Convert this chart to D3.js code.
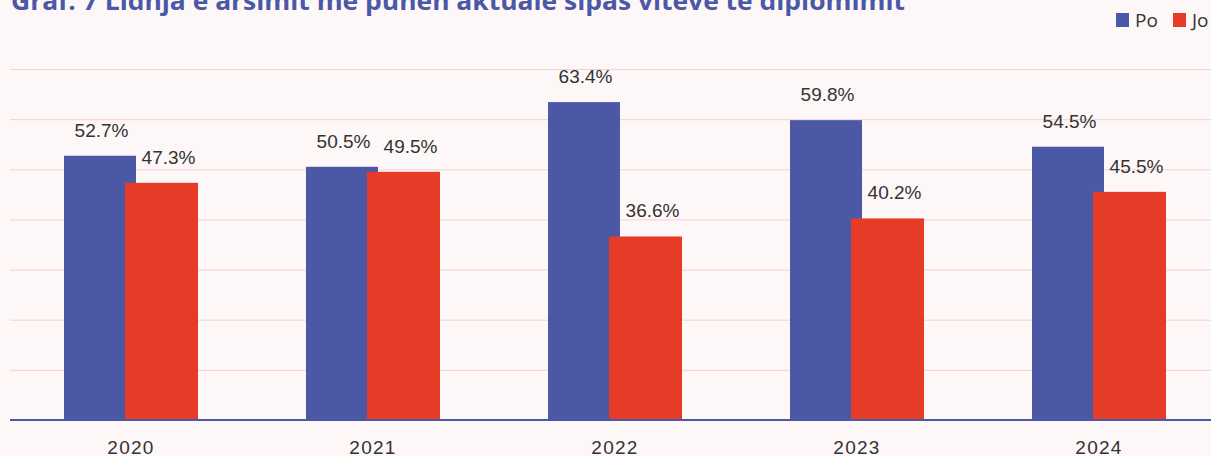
<!DOCTYPE html>
<html>
<head>
<meta charset="utf-8">
<script src="https://cdn.jsdelivr.net/npm/d3@7"></script>
<style>
  html, body { margin: 0; padding: 0; background: #fdf7f7; overflow: hidden; }
  svg { display: block; }
</style>
</head>
<body>
<svg id="chart" width="1211" height="456"></svg>
<script>
const titleText = "Graf. 7 Lidhja e arsimit me punën aktuale sipas viteve të diplomimit";
const years = ["2020", "2021", "2022", "2023", "2024"];
const seriesNames = ["Po", "Jo"];
const poValues = [52.7, 50.5, 63.4, 59.8, 54.5];
const joValues = [47.3, 49.5, 36.6, 40.2, 45.5];
const yTicks = [0, 10, 20, 30, 40, 50, 60, 70];
const colors = { Po: "#4a58a6", Jo: "#e63c27" };

const svg = d3.select("#chart");
const W = 1211, H = 456;

svg.append("rect").attr("width", W).attr("height", H).attr("fill", "#fdf7f7");

const x = d3.scaleBand().domain(years).range([10, 1220]).padding(0);
const y = d3.scaleLinear().domain([0, 70]).range([420, 69]);
// offsets of each series' bar relative to category centre (bars overlap)
const sx = d3.scalePoint().domain(seriesNames).range([-67, -6]);
const barW = { Po: 72, Jo: 73 };
const labelNudge = { Po: 1.5, Jo: 7 };

// gridlines
const grid = svg.append("g")
  .attr("transform", "translate(10,0)")
  .call(d3.axisLeft(y).tickValues(yTicks.filter(t => t > 0)).tickSize(-1210).tickFormat(""));
grid.select(".domain").remove();
grid.selectAll(".tick line").attr("stroke", "#f8cfcf").attr("stroke-width", 1);

const data = years.map((yr, i) => ({ year: yr, Po: poValues[i], Jo: joValues[i] }));

// bars
seriesNames.forEach(s => {
  svg.append("g").selectAll("rect")
    .data(data)
    .join("rect")
    .attr("x", d => x(d.year) + x.bandwidth() / 2 + sx(s))
    .attr("y", d => y(d[s]))
    .attr("width", barW[s])
    .attr("height", d => y(0) - y(d[s]))
    .attr("fill", colors[s]);
});

// value labels
seriesNames.forEach(s => {
  svg.append("g").selectAll("text")
    .data(data)
    .join("text")
    .attr("x", d => x(d.year) + x.bandwidth() / 2 + sx(s) + barW[s] / 2 + labelNudge[s])
    .attr("y", d => y(d[s]) - 19)
    .attr("text-anchor", "middle")
    .attr("font-family", "'Liberation Sans', Arial, Helvetica, sans-serif")
    .attr("font-size", 19)
    .attr("fill", "#333333")
    .text(d => d[s].toFixed(1) + "%");
});

// x axis
const xAxis = svg.append("g")
  .attr("transform", "translate(0,420)")
  .call(d3.axisBottom(x).tickSize(0).tickPadding(0));
xAxis.select(".domain").remove();
xAxis.selectAll(".tick text")
  .attr("y", 34)
  .attr("dy", 0)
  .attr("font-family", "'Liberation Sans', Arial, Helvetica, sans-serif")
  .attr("font-size", 19)
  .attr("letter-spacing", 1.3)
  .attr("fill", "#333333");
svg.append("line")
  .attr("x1", 10).attr("x2", W)
  .attr("y1", y(0)).attr("y2", y(0))
  .attr("stroke", "#4a58a6").attr("stroke-width", 2);

// title
svg.append("text")
  .attr("x", 11)
  .attr("y", 10)
  .attr("font-family", "'Open Sans', sans-serif")
  .attr("font-weight", 700)
  .attr("font-size", 25)
  .attr("fill", "#4a58a6")
  .attr("textLength", 894)
  .attr("lengthAdjust", "spacingAndGlyphs")
  .text(titleText);

// legend
const legendX = { Po: 1116, Jo: 1173 };
const lg = svg.append("g");
seriesNames.forEach(s => {
  lg.append("rect")
    .attr("x", legendX[s]).attr("y", 13)
    .attr("width", 13).attr("height", 14)
    .attr("fill", colors[s]);
  lg.append("text")
    .attr("x", legendX[s] + 19).attr("y", 27)
    .attr("font-family", "'Open Sans', sans-serif")
    .attr("font-size", 19)
    .attr("fill", "#333333")
    .text(s);
});
</script>
</body>
</html>
